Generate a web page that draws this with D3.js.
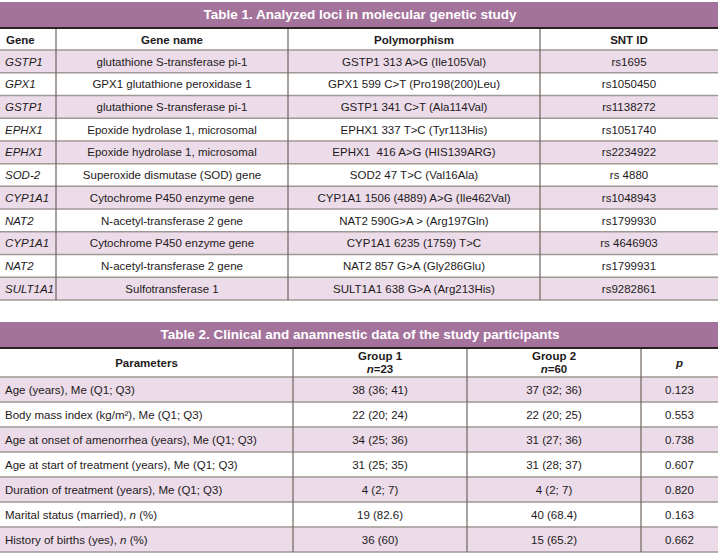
<!DOCTYPE html>
<html><head><meta charset="utf-8">
<script src="https://cdn.jsdelivr.net/npm/d3@7/dist/d3.min.js"></script>
<style>
body{margin:0;background:#fff;}
svg text{font-family:"Liberation Sans",Arial,sans-serif;fill:#1e1a1b;}
</style></head>
<body><svg id="c" width="720" height="554"></svg>
<script>
// Table 1 data
const t1Title = "Table 1. Analyzed loci in molecular genetic study";
const t1Headers = ["Gene", "Gene name", "Polymorphism", "SNT ID"];
const genes = ["GSTP1","GPX1","GSTP1","EPHX1","EPHX1","SOD-2","CYP1A1","NAT2","CYP1A1","NAT2","SULT1A1"];
const geneNames = ["glutathione S-transferase pi-1","GPX1 glutathione peroxidase 1","glutathione S-transferase pi-1",
  "Epoxide hydrolase 1, microsomal","Epoxide hydrolase 1, microsomal","Superoxide dismutase (SOD) gene",
  "Cytochrome P450 enzyme gene","N-acetyl-transferase 2 gene","Cytochrome P450 enzyme gene",
  "N-acetyl-transferase 2 gene","Sulfotransferase 1"];
const polymorphisms = ["GSTP1 313 A>G (Ile105Val)","GPX1 599 C>T (Pro198(200)Leu)","GSTP1 341 C>T (Ala114Val)",
  "EPHX1 337 T>C (Tyr113His)","EPHX1  416 A>G (HIS139ARG)","SOD2 47 T>C (Val16Ala)",
  "CYP1A1 1506 (4889) A>G (Ile462Val)","NAT2 590G>A > (Arg197Gln)","CYP1A1 6235 (1759) T>C",
  "NAT2 857 G>A (Gly286Glu)","SULT1A1 638 G>A (Arg213His)"];
const sntIds = ["rs1695","rs1050450","rs1138272","rs1051740","rs2234922","rs 4880","rs1048943","rs1799930","rs 4646903","rs1799931","rs9282861"];

// Table 2 data
const t2Title = "Table 2. Clinical and anamnestic data of the study participants";
const params = [
  [["Age (years), Me (Q1; Q3)",false]],
  [["Body mass index (kg/m²), Me (Q1; Q3)",false]],
  [["Age at onset of amenorrhea (years), Me (Q1; Q3)",false]],
  [["Age at start of treatment (years), Me (Q1; Q3)",false]],
  [["Duration of treatment (years), Me (Q1; Q3)",false]],
  [["Marital status (married), ",false],["n",true],[" (%)",false]],
  [["History of births (yes), ",false],["n",true],[" (%)",false]]
];
const group1 = ["38 (36; 41)","22 (20; 24)","34 (25; 36)","31 (25; 35)","4 (2; 7)","19 (82.6)","36 (60)"];
const group2 = ["37 (32; 36)","22 (20; 25)","31 (27; 36)","31 (28; 37)","4 (2; 7)","40 (68.4)","15 (65.2)"];
const pValues = ["0.123","0.553","0.738","0.607","0.820","0.163","0.662"];

const C = {purple:"#a4739c", pink:"#ecdce9", hline:"#a09894", vline:"#6e645e", dark:"#2a2220"};
const svg = d3.select("#c");
const X0 = 0, X1 = 718;
const FS = 11.5;

function titleBar(y0, y1, text){
  svg.append("rect").attr("x",X0).attr("y",y0).attr("width",X1-X0).attr("height",y1-y0).attr("fill",C.purple);
  svg.append("text").attr("x",(X0+X1)/2+1).attr("y",(y0+y1)/2).attr("dy","0.36em")
    .attr("text-anchor","middle").attr("font-weight","bold").attr("font-size",13.5)
    .style("fill","#fff").text(text);
  svg.append("line").attr("x1",X0).attr("x2",X1).attr("y1",y1+1).attr("y2",y1+1)
    .attr("stroke",C.dark).attr("stroke-width",2);
}

// ---------- Table 1 ----------
{
  const colEdges = [0,56,288,540,718];
  const yRows = d3.scaleBand().domain(d3.range(genes.length)).range([50,300]).padding(0);
  titleBar(2,27,t1Title);
  const g = svg.append("g");
  g.selectAll("rect.s").data(genes).join("rect")
    .attr("x",X0).attr("width",X1-X0)
    .attr("y",(d,i)=>yRows(i)).attr("height",yRows.bandwidth())
    .attr("fill",(d,i)=>i%2===0?C.pink:"#fff");
  t1Headers.forEach((h,j)=>{
    g.append("text").attr("x",j===0?6:(colEdges[j]+colEdges[j+1])/2).attr("y",40).attr("dy","0.36em")
      .attr("text-anchor",j===0?"start":"middle").attr("font-weight","bold").attr("font-size",FS).text(h);
  });
  const rows = g.selectAll("g.r").data(genes).join("g").attr("transform",(d,i)=>`translate(0,${yRows(i)+yRows.bandwidth()/2})`);
  rows.append("text").attr("x",5).attr("dy","0.36em").attr("font-size",FS).attr("font-style","italic").text(d=>d);
  rows.append("text").attr("x",(colEdges[1]+colEdges[2])/2).attr("dy","0.36em").attr("text-anchor","middle").attr("font-size",FS).text((d,i)=>geneNames[i]);
  rows.append("text").attr("x",(colEdges[2]+colEdges[3])/2).attr("dy","0.36em").attr("text-anchor","middle").attr("font-size",FS).style("white-space","pre").attr("xml:space","preserve").text((d,i)=>polymorphisms[i]);
  rows.append("text").attr("x",(colEdges[3]+colEdges[4])/2).attr("dy","0.36em").attr("text-anchor","middle").attr("font-size",FS).text((d,i)=>sntIds[i]);
  const hl = [50].concat(d3.range(genes.length).map(i=>yRows(i)+yRows.bandwidth()));
  g.selectAll("line.h").data(hl).join("line").attr("x1",X0).attr("x2",X1).attr("y1",d=>d).attr("y2",d=>d)
    .attr("stroke",C.hline).attr("stroke-width",1.5);
  g.selectAll("line.v").data(colEdges.slice(1,-1)).join("line").attr("x1",d=>d).attr("x2",d=>d)
    .attr("y1",29).attr("y2",300).attr("stroke",C.vline).attr("stroke-width",1.2);
}

// ---------- Table 2 ----------
{
  const colEdges = [0,293,467,641,718];
  const yRows = d3.scaleBand().domain(d3.range(params.length)).range([377,552]).padding(0);
  titleBar(322,347,t2Title);
  const g = svg.append("g");
  g.selectAll("rect.s").data(params).join("rect")
    .attr("x",X0).attr("width",X1-X0)
    .attr("y",(d,i)=>yRows(i)).attr("height",yRows.bandwidth())
    .attr("fill",(d,i)=>i%2===0?C.pink:"#fff");
  g.append("text").attr("x",(colEdges[0]+colEdges[1])/2).attr("y",363).attr("dy","0.36em")
    .attr("text-anchor","middle").attr("font-weight","bold").attr("font-size",FS).text("Parameters");
  [["Group 1","23"],["Group 2","60"]].forEach((h,k)=>{
    const cx=(colEdges[k+1]+colEdges[k+2])/2;
    g.append("text").attr("x",cx).attr("y",355.5).attr("dy","0.36em").attr("text-anchor","middle")
      .attr("font-weight","bold").attr("font-size",FS).text(h[0]);
    const t=g.append("text").attr("x",cx).attr("y",368.5).attr("dy","0.36em").attr("text-anchor","middle")
      .attr("font-weight","bold").attr("font-size",FS);
    t.append("tspan").attr("font-style","italic").text("n");
    t.append("tspan").text("="+h[1]);
  });
  g.append("text").attr("x",(colEdges[3]+colEdges[4])/2).attr("y",363).attr("dy","0.36em")
    .attr("text-anchor","middle").attr("font-weight","bold").attr("font-style","italic").attr("font-size",FS).text("p");

  const rows = g.selectAll("g.r").data(params).join("g").attr("transform",(d,i)=>`translate(0,${yRows(i)+yRows.bandwidth()/2})`);
  const pt = rows.append("text").attr("x",5).attr("dy","0.36em").attr("font-size",FS);
  pt.selectAll("tspan").data(d=>d).join("tspan").attr("font-style",d=>d[1]?"italic":null).text(d=>d[0]);
  rows.append("text").attr("x",(colEdges[1]+colEdges[2])/2).attr("dy","0.36em").attr("text-anchor","middle").attr("font-size",FS).text((d,i)=>group1[i]);
  rows.append("text").attr("x",(colEdges[2]+colEdges[3])/2).attr("dy","0.36em").attr("text-anchor","middle").attr("font-size",FS).text((d,i)=>group2[i]);
  rows.append("text").attr("x",(colEdges[3]+colEdges[4])/2).attr("dy","0.36em").attr("text-anchor","middle").attr("font-size",FS).text((d,i)=>pValues[i]);
  const hl = [377].concat(d3.range(params.length).map(i=>yRows(i)+yRows.bandwidth()));
  g.selectAll("line.h").data(hl).join("line").attr("x1",X0).attr("x2",X1).attr("y1",d=>d).attr("y2",d=>d)
    .attr("stroke",C.hline).attr("stroke-width",1.5);
  g.selectAll("line.v").data(colEdges.slice(1,-1)).join("line").attr("x1",d=>d).attr("x2",d=>d)
    .attr("y1",349).attr("y2",552).attr("stroke",C.vline).attr("stroke-width",1.2);
}
</script></body></html>
